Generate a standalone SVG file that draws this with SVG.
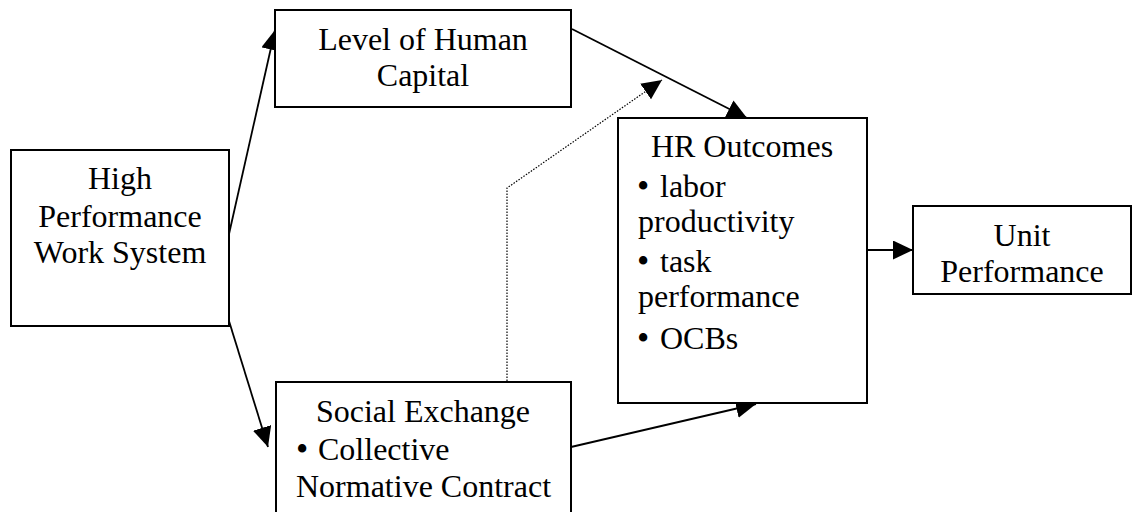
<svg xmlns="http://www.w3.org/2000/svg" width="1133" height="512" viewBox="0 0 1133 512">
  <style>
    .box { fill: #fff; stroke: #000; stroke-width: 2; }
    .lbl { font-family: "Liberation Serif", "Times New Roman", serif; font-size: 32px; fill: #000; }
    .mid { text-anchor: middle; }
    .bul { font-size: 35px; }
    .edge { fill: none; stroke: #000; stroke-width: 1.8; }
    .dot { fill: none; stroke: #000; stroke-width: 1.2; stroke-dasharray: 1.5 1.5; }
  </style>
  <defs>
    <marker id="head" markerUnits="userSpaceOnUse" markerWidth="22" markerHeight="20" refX="20" refY="9.5" orient="auto">
      <path d="M0,0 L20,9.5 L0,19 z" fill="#000"/>
    </marker>
  </defs>
  <rect width="1133" height="512" fill="#fff"/>

  <g id="connectors">
    <line class="edge" x1="229" y1="234" x2="275" y2="30" marker-end="url(#head)"/>
    <line class="edge" x1="229" y1="321" x2="268" y2="447" marker-end="url(#head)"/>
    <line class="edge" x1="572" y1="29" x2="747" y2="118" marker-end="url(#head)"/>
    <line class="edge" x1="571" y1="447" x2="756" y2="404" marker-end="url(#head)"/>
    <line class="edge" x1="867" y1="250" x2="913" y2="250" marker-end="url(#head)"/>
    <polyline class="dot" points="507,387 507,188 662,80" marker-end="url(#head)"/>
  </g>

  <g id="hpws">
    <rect class="box" x="11" y="150" width="218" height="176"/>
    <text class="lbl mid" x="120" y="189">High</text>
    <text class="lbl mid" x="120" y="227">Performance</text>
    <text class="lbl mid" x="120" y="263">Work System</text>
  </g>

  <g id="human-capital">
    <rect class="box" x="275" y="10" width="296" height="97"/>
    <text class="lbl mid" x="423" y="50">Level of Human</text>
    <text class="lbl mid" x="423" y="86">Capital</text>
  </g>

  <g id="social-exchange">
    <rect class="box" x="276" y="382" width="295" height="140"/>
    <text class="lbl mid" x="423" y="422">Social Exchange</text>
    <text class="lbl" x="296" y="460"><tspan class="bul" dy="1">•</tspan><tspan x="318" dy="-1">Collective</tspan></text>
    <text class="lbl" x="296" y="497">Normative Contract</text>
  </g>

  <g id="hr-outcomes">
    <rect class="box" x="618" y="118" width="249" height="285"/>
    <text class="lbl mid" x="742" y="157">HR Outcomes</text>
    <text class="lbl" x="637" y="197"><tspan class="bul" dy="1">•</tspan><tspan x="660" dy="-1">labor</tspan></text>
    <text class="lbl" x="638" y="232">productivity</text>
    <text class="lbl" x="637" y="272"><tspan class="bul" dy="1">•</tspan><tspan x="660" dy="-1">task</tspan></text>
    <text class="lbl" x="638" y="307">performance</text>
    <text class="lbl" x="637" y="349"><tspan class="bul" dy="1">•</tspan><tspan x="660" dy="-1">OCBs</tspan></text>
  </g>

  <g id="unit-performance">
    <rect class="box" x="913" y="206" width="218" height="88"/>
    <text class="lbl mid" x="1022" y="246">Unit</text>
    <text class="lbl mid" x="1022" y="282">Performance</text>
  </g>
</svg>
